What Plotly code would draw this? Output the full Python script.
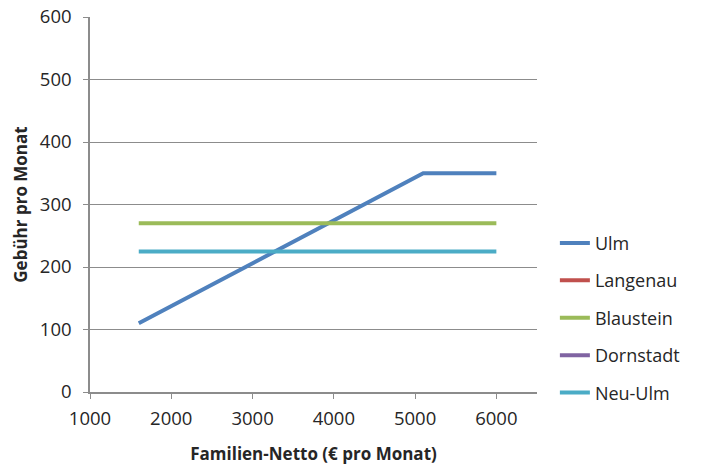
import plotly.graph_objects as go

# Monthly fee by family net income for several municipalities
income_ulm = [1600, 5100, 6000]
fee_ulm = [110, 350, 350]

income_langenau = [None]
fee_langenau = [None]

income_blaustein = [1600, 6000]
fee_blaustein = [270, 270]

income_dornstadt = [None]
fee_dornstadt = [None]

income_neuulm = [1600, 6000]
fee_neuulm = [225, 225]

series = [
    ("Ulm", income_ulm, fee_ulm, "#4F81BD"),
    ("Langenau", income_langenau, fee_langenau, "#C0504D"),
    ("Blaustein", income_blaustein, fee_blaustein, "#9BBB59"),
    ("Dornstadt", income_dornstadt, fee_dornstadt, "#8064A2"),
    ("Neu-Ulm", income_neuulm, fee_neuulm, "#4BACC6"),
]

FONT = "Open Sans, Carlito, Calibri, sans-serif"
GRID = "#8C8C8C"
TEXT = "#262626"

fig = go.Figure()
for name, xs, ys, color in series:
    fig.add_trace(go.Scatter(
        x=xs, y=ys, name=name, mode="lines", legendgroup=name,
        showlegend=True,
        line=dict(color=color, width=4),
    ))

fig.update_layout(
    width=702, height=466,
    margin=dict(l=90, r=165, t=17, b=74),
    paper_bgcolor="white", plot_bgcolor="white",
    font=dict(family=FONT, size=18.5, color=TEXT),
    legend=dict(
        x=1.04, xanchor="left", y=0.446, yanchor="top",
        traceorder="grouped", tracegroupgap=11,
        font=dict(size=18, color=TEXT),
        bgcolor="rgba(0,0,0,0)",
    ),
    xaxis=dict(
        range=[1000, 6500], tickvals=[1000, 2000, 3000, 4000, 5000, 6000],
        showgrid=False, zeroline=False, automargin=False,
        showline=True, linecolor=GRID, linewidth=1.5,
        ticks="outside", ticklen=5, tickcolor=GRID,
        ticklabelstandoff=4,
        title=dict(text="<b>Familien-Netto (€ pro Monat)</b>",
                   font=dict(size=17), standoff=19),
    ),
    yaxis=dict(
        range=[0, 600], dtick=100,
        showgrid=True, gridcolor=GRID, gridwidth=1, zeroline=False,
        automargin=False,
        showline=True, linecolor=GRID, linewidth=1.5,
        ticks="outside", ticklen=5, tickcolor=GRID,
        ticklabelstandoff=8,
        title=dict(text="<b>Gebühr pro Monat</b>",
                   font=dict(size=17), standoff=8),
    ),
)

fig.write_html("out.html")
